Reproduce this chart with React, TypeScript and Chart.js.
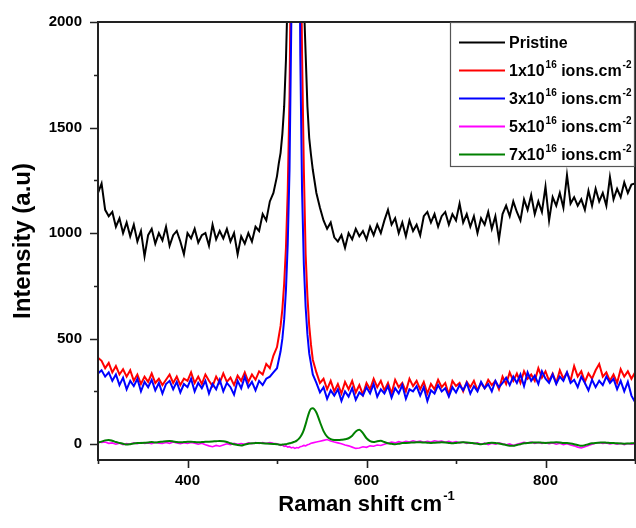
import React, { useEffect, useRef } from 'react';
import { Chart, registerables } from 'chart.js';

Chart.register(...registerables);

// Raman shift (cm^-1)
const ramanShift = [
  300, 304, 308, 312, 316, 320, 324, 328, 332, 336,
  340, 344, 348, 352, 356, 360, 364, 368, 372, 376,
  380, 384, 388, 392, 396, 400, 404, 408, 412, 416,
  420, 424, 428, 432, 436, 440, 444, 448, 452, 456,
  460, 464, 468, 472, 476, 480, 484, 488, 492, 496,
  500, 502, 504, 506, 508, 510, 512, 514, 516, 518,
  520, 522, 524, 526, 528, 530, 532, 534, 536, 538,
  540, 544, 548, 552, 556, 560, 564, 568, 572, 576,
  580, 584, 588, 592, 596, 600, 604, 608, 612, 616,
  620, 624, 628, 632, 636, 640, 644, 648, 652, 656,
  660, 664, 668, 672, 676, 680, 684, 688, 692, 696,
  700, 704, 708, 712, 716, 720, 724, 728, 732, 736,
  740, 744, 748, 752, 756, 760, 764, 768, 772, 776,
  780, 784, 788, 792, 796, 800, 804, 808, 812, 816,
  820, 824, 828, 832, 836, 840, 844, 848, 852, 856,
  860, 864, 868, 872, 876, 880, 884, 888, 892, 896,
  900,
];

const pristine = [
  1190, 1235, 1110, 1080, 1100, 1030, 1070, 1000, 1050, 985,
  1040, 960, 1010, 890, 990, 1020, 950, 1000, 965, 1030,
  940, 990, 1010, 960, 900, 1000, 975, 1020, 955, 990,
  1000, 940, 1040, 970, 1010, 975, 1020, 960, 1000, 900,
  985, 950, 1000, 960, 1030, 1010, 1090, 1060, 1150, 1190,
  1270, 1330, 1380, 1470, 1600, 1820, 2150, 2700, 3600, 5200,
  7000, 7000, 5000, 3400, 2500, 2100, 1850, 1600, 1450, 1370,
  1300, 1190, 1120, 1060, 1020, 1050, 980, 960, 990, 930,
  1000, 970, 1020, 985, 1010, 970, 1030, 990, 1040, 1000,
  1060, 1110, 1040, 1070, 1000, 1050, 985, 1060, 1010, 1040,
  990, 1080, 1100, 1050, 1090, 1030, 1080, 1100, 1040, 1090,
  1060, 1140, 1050, 1090, 1030, 1080, 1000, 1070, 1040, 1100,
  1020, 1080, 970, 1090, 1130, 1080, 1150, 1100, 1060, 1160,
  1110, 1180, 1090, 1150, 1100, 1220, 1060, 1170, 1130, 1190,
  1120, 1275, 1140, 1170, 1130, 1160, 1110, 1200, 1130, 1210,
  1150, 1190, 1130, 1265, 1160, 1210, 1170, 1240, 1190, 1230,
  1235,
];

const dose1 = [
  410, 395, 360, 385, 340, 370, 330, 355, 320, 350,
  300, 330, 285, 320, 295, 335, 290, 310, 280, 305,
  330, 290, 320, 280, 310, 300, 340, 290, 320, 285,
  330, 300, 275, 320, 290, 335, 295, 315, 280, 325,
  300, 340, 295, 330, 305, 345, 330, 380, 360, 420,
  460, 510, 560, 640, 760, 930, 1200, 1650, 2500, 4500,
  8500, 8000, 4200, 2600, 1850, 1300, 900, 700, 560, 470,
  400, 340, 290, 310, 260, 300, 250, 285, 240, 295,
  260, 300, 245, 280, 235, 290, 260, 310, 270, 300,
  255, 290, 240, 305, 270, 290, 250, 310, 275, 300,
  260, 295, 240, 285, 260, 305, 270, 290, 235, 300,
  275, 290, 250, 295, 270, 300, 255, 290, 265, 305,
  280, 300, 260, 320, 285, 340, 300, 335, 290, 345,
  310, 330, 300, 360, 315, 345, 300, 335, 290, 350,
  310, 340, 300, 370, 320, 345, 295, 335, 310, 350,
  380, 320, 340, 300, 330, 290, 355, 320, 345, 310,
  340,
];

const dose3 = [
  335, 350, 320, 340, 300, 330, 280, 315, 260, 300,
  275, 310, 250, 295, 270, 305, 255, 290, 240, 285,
  300, 260, 295, 245, 285, 270, 310, 250, 290, 265,
  300, 240, 285, 260, 305, 250, 290, 270, 235, 300,
  265, 320, 270, 295, 255, 300, 280, 310, 320, 340,
  360, 400, 440, 500, 590, 730, 950, 1300, 2000, 3800,
  8000, 7500, 3300, 1850, 1200, 850, 650, 520, 430, 380,
  330, 290, 245, 270, 215, 255, 230, 260, 205, 250,
  225, 265, 210, 245, 230, 270, 240, 285, 225, 260,
  240, 275, 220, 265, 240, 280, 215, 260, 250, 275,
  230, 270, 205, 255, 240, 280, 250, 265, 225, 270,
  245, 280, 255, 290, 240, 275, 250, 295, 265, 285,
  250, 300, 270, 290, 315, 280, 320, 290, 330, 275,
  340, 300, 325, 285, 345, 310, 290, 330, 285, 320,
  300, 340, 290, 305, 270, 320, 290, 255, 305, 270,
  300, 280, 320, 290, 310, 260, 300, 250, 295, 230,
  200,
];

const dose5 = [
  12, 8, 10, 4, 6, 0, 5, -2, 3, 0,
  6, 2, 8, 4, 6, 2, 9, 5, 3, 8,
  4, 10, 6, 2, 7, 3, 8, 5, 0, 4,
  -3, -8, -12, -6, -10, -4, 2, -2, 4, -1,
  3, 0, 6, 2, 8, 4, 7, 3, 8, 4,
  2, -2, -6, -4, -10, -8, -14, -12, -18, -15,
  -20, -16, -18, -12, -10, -6, -8, -3, 0, 4,
  6, 10, 14, 18, 22, 15, 10, 6, 2, -4,
  -8, -14, -20, -18, -12, -15, -8, -10, -4, -6,
  0, 4, 10, 6, 12, 8, 14, 10, 16, 11,
  15, 9, 14, 10, 16, 12, 15, 9, 13, 8,
  12, 6, 10, 4, 8, 2, 6, 0, 5, -2,
  4, 0, 6, 2, -3, 1, -6, 0, 4, 9,
  5, 10, 4, 8, 3, 7, 2, 6, 0, 4,
  -2, 2, -4, -8, -14, -18, -12, -6, 0, 4,
  8, 3, 6, 1, 5, 0, 4, -2, 3, 0,
  2,
];

const dose7 = [
  8, 12, 18, 20, 16, 10, 6, 2, -2, 0,
  3, 5, 6, 7, 8, 10, 8, 10, 12, 14,
  15, 13, 10, 9, 10, 11, 12, 10, 9, 10,
  11, 12, 13, 14, 15, 14, 10, 4, 0, -4,
  -6, -2, 2, 4, 5, 6, 4, 3, 2, 1,
  0, -2, -3, -2, -1, 0, 2, 4, 6, 9,
  12, 17, 24, 34, 48, 68, 95, 125, 152, 168,
  170, 150, 105, 62, 36, 24, 20, 20, 21, 23,
  28, 40, 60, 68, 52, 28, 14, 10, 14, 16,
  10, 4, 2, 0, 2, 5, 6, 7, 8, 9,
  9, 8, 7, 6, 7, 8, 9, 8, 6, 4,
  6, 8, 9, 8, 6, 4, 2, 0, 2, 5,
  7, 6, 3, 0, -4, -7, -8, -4, 0, 4,
  6, 7, 8, 8, 7, 6, 7, 8, 9, 8,
  6, 5, 3, 0, -4, -8, -5, 0, 4, 6,
  7, 8, 7, 6, 5, 4, 3, 2, 3, 4,
  5,
];

const xMajorTicks = [400, 600, 800];
const xMinorTicks = [300, 500, 700, 900];
const yMajorTicks = [0, 500, 1000, 1500, 2000];
const yMinorTicks = [250, 750, 1250, 1750];

const seriesLabels = ['Pristine', '1x10', '3x10', '5x10', '7x10'];
const doseExponent = '16';
const doseUnit = ' ions.cm';
const unitExponent = '-2';
const seriesColors = ['#000000', '#ff0000', '#0000ff', '#ff00ff', '#008000'];

const xTitle = 'Raman shift cm';
const xTitleExp = '-1';
const yTitle = 'Intensity (a.u)';

const FONT = '"Liberation Sans", Arial, Helvetica, sans-serif';

type Part = { t: string; sup?: boolean };

function richWidth(ctx: CanvasRenderingContext2D, parts: Part[], size: number) {
  let w = 0;
  for (const p of parts) {
    ctx.font = `bold ${p.sup ? Math.round(size * 0.6) : size}px ${FONT}`;
    w += ctx.measureText(p.t).width + (p.sup ? 1 : 0);
  }
  return w;
}

function drawRich(ctx: CanvasRenderingContext2D, x: number, y: number, parts: Part[], size: number) {
  let cx = x;
  ctx.textAlign = 'left';
  ctx.textBaseline = 'alphabetic';
  for (const p of parts) {
    if (p.sup) {
      ctx.font = `bold ${Math.round(size * 0.6)}px ${FONT}`;
      ctx.fillText(p.t, cx + 1, y - size * 0.48);
      cx += ctx.measureText(p.t).width + 1;
    } else {
      ctx.font = `bold ${size}px ${FONT}`;
      ctx.fillText(p.t, cx, y);
      cx += ctx.measureText(p.t).width;
    }
  }
}

export default function App() {
  const ref = useRef<HTMLCanvasElement>(null);

  useEffect(() => {
    document.body.style.margin = '0';
    const canvas = ref.current;
    if (!canvas) return;

    const series = [pristine, dose1, dose3, dose5, dose7];
    const orders = [5, 4, 2, 3, 1];
    const widths = [2, 2, 2, 1.6, 2];

    const datasets = series.map((vals, i) => ({
      label: seriesLabels[i],
      data: ramanShift.map((x, j) => ({ x, y: vals[j] })),
      borderColor: seriesColors[i],
      backgroundColor: seriesColors[i],
      borderWidth: widths[i],
      pointRadius: 0,
      tension: 0,
      cubicInterpolationMode: i === 4 ? 'monotone' : 'default',
      order: orders[i],
      fill: false,
    }));

    const decorPlugin = {
      id: 'decor',
      afterDraw(chart: any) {
        const { ctx, chartArea: a, scales } = chart;
        const xs = scales.x;
        const ys = scales.y;
        ctx.save();
        ctx.strokeStyle = '#222222';
        ctx.fillStyle = '#000000';

        // ticks
        ctx.lineWidth = 1.6;
        ctx.beginPath();
        for (const v of xMajorTicks) {
          const px = Math.round(xs.getPixelForValue(v)) + 0.5;
          ctx.moveTo(px, a.bottom);
          ctx.lineTo(px, a.bottom + 8);
        }
        for (const v of xMinorTicks) {
          const px = Math.round(xs.getPixelForValue(v)) + 0.5;
          ctx.moveTo(px, a.bottom);
          ctx.lineTo(px, a.bottom + 4);
        }
        for (const v of yMajorTicks) {
          const py = Math.round(ys.getPixelForValue(v)) + 0.5;
          ctx.moveTo(a.left, py);
          ctx.lineTo(a.left - 8, py);
        }
        for (const v of yMinorTicks) {
          const py = Math.round(ys.getPixelForValue(v)) + 0.5;
          ctx.moveTo(a.left, py);
          ctx.lineTo(a.left - 4, py);
        }
        ctx.stroke();

        // frame
        ctx.lineWidth = 2;
        ctx.strokeRect(a.left, a.top, a.right - a.left, a.bottom - a.top);

        // legend
        const lx = 450;
        const ly = a.top;
        const lw = 184;
        const lh = 144;
        ctx.fillStyle = '#ffffff';
        ctx.fillRect(lx, ly + 1, lw, lh - 1);
        ctx.strokeStyle = '#555555';
        ctx.lineWidth = 1.2;
        ctx.strokeRect(lx + 0.5, ly + 0.5, lw, lh);
        const rowY = [42.5, 70.5, 98.5, 126.5, 154.5];
        seriesLabels.forEach((lab, i) => {
          const y = rowY[i];
          ctx.strokeStyle = seriesColors[i];
          ctx.lineWidth = 2;
          ctx.beginPath();
          ctx.moveTo(459, y);
          ctx.lineTo(505, y);
          ctx.stroke();
          ctx.fillStyle = '#000000';
          const parts: Part[] = i === 0
            ? [{ t: lab }]
            : [{ t: lab }, { t: doseExponent, sup: true }, { t: doseUnit }, { t: unitExponent, sup: true }];
          drawRich(ctx, 509, y + 5.5, parts, 16);
        });

        // x title
        ctx.fillStyle = '#000000';
        const xParts: Part[] = [{ t: xTitle }, { t: xTitleExp, sup: true }];
        const size = 22;
        const w = richWidth(ctx, xParts, size);
        const cx = (a.left + a.right) / 2;
        drawRich(ctx, cx - w / 2, 511, xParts, size);

        // y title
        ctx.save();
        ctx.translate(30, (a.top + a.bottom) / 2);
        ctx.rotate(-Math.PI / 2);
        ctx.font = `bold 24px ${FONT}`;
        ctx.textAlign = 'center';
        ctx.textBaseline = 'alphabetic';
        ctx.fillText(yTitle, 0, 0);
        ctx.restore();

        ctx.restore();
      },
    };

    const chart = new Chart(canvas, {
      type: 'line',
      data: { datasets: datasets as any },
      options: {
        animation: false,
        responsive: false,
        maintainAspectRatio: false,
        devicePixelRatio: 1,
        layout: { padding: { top: 22, right: 1, bottom: 0, left: 0 } },
        plugins: {
          legend: { display: false },
          tooltip: { enabled: false },
          title: { display: false },
        },
        scales: {
          x: {
            type: 'linear',
            min: 300,
            max: 900,
            afterBuildTicks: (s: any) => {
              s.ticks = xMajorTicks.map((v) => ({ value: v }));
            },
            afterFit: (s: any) => {
              s.height = 68;
            },
            grid: {
              display: true,
              drawOnChartArea: false,
              drawTicks: true,
              tickLength: 8,
              tickColor: 'rgba(0,0,0,0)',
            },
            border: { display: false },
            ticks: {
              color: '#000000',
              padding: 4,
              maxRotation: 0,
              callback: (v: any) => String(v),
              font: { family: FONT, size: 15, weight: 'bold' },
            },
          },
          y: {
            type: 'linear',
            min: -75,
            max: 2000,
            afterBuildTicks: (s: any) => {
              s.ticks = yMajorTicks.map((v) => ({ value: v }));
            },
            afterFit: (s: any) => {
              s.width = 98;
            },
            grid: {
              display: true,
              drawOnChartArea: false,
              drawTicks: true,
              tickLength: 8,
              tickColor: 'rgba(0,0,0,0)',
            },
            border: { display: false },
            ticks: {
              color: '#000000',
              padding: 8,
              callback: (v: any) => String(v),
              font: { family: FONT, size: 15, weight: 'bold' },
            },
          },
        },
      },
      plugins: [decorPlugin],
    } as any);

    return () => {
      chart.destroy();
    };
  }, []);

  return <canvas ref={ref} width={636} height={528} style={{ display: 'block' }} />;
}
